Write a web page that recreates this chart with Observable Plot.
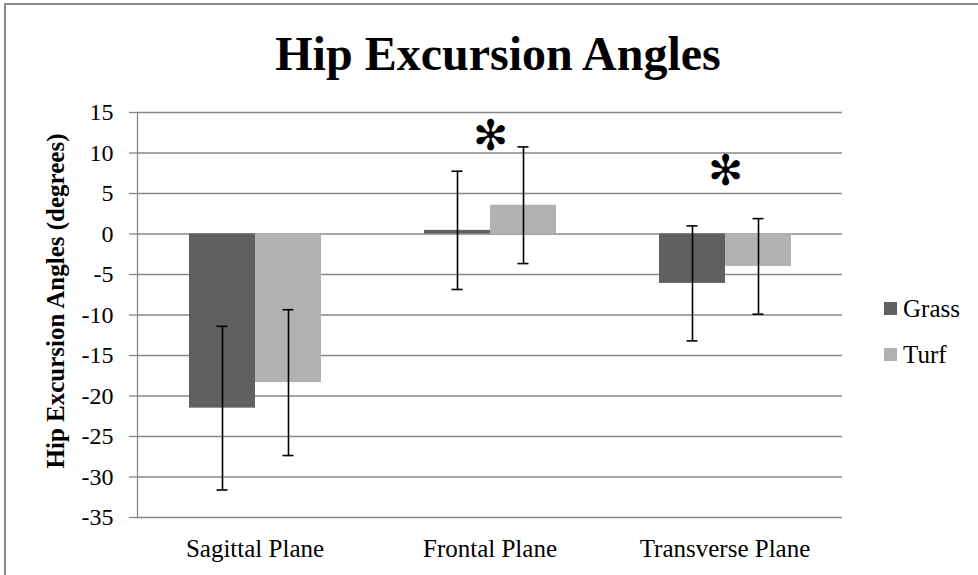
<!DOCTYPE html>
<html>
<head>
<meta charset="utf-8">
<script src="https://cdn.jsdelivr.net/npm/d3@7"></script>
<script src="https://cdn.jsdelivr.net/npm/@observablehq/plot@0.6"></script>
<style>
  html, body { margin: 0; padding: 0; background: white; }
  body { width: 978px; height: 575px; position: relative; overflow: hidden; font-family: "Liberation Serif", "Times New Roman", serif; }
  #border { position: absolute; left: 4px; top: 3px; width: 1000px; height: 600px; border: 2px solid #8a8a8a; box-sizing: border-box; }
  #title { position: absolute; left: 0; top: 30px; width: 996px; text-align: center; font-family: "Liberation Serif", serif; font-size: 48px; line-height: 48px; font-weight: bold; color: black; }
  #chart { position: absolute; left: 0; top: 0; }
  #chart svg text { font-family: "Liberation Serif", serif; }
  .leg-item { position: absolute; font-family: "Liberation Serif", serif; font-size: 25px; line-height: 25px; color: black; }
  .leg-sw { position: absolute; width: 13px; height: 13px; }
  #chart svg text.star { font-family: "DejaVu Sans", sans-serif; }
</style>
</head>
<body>
<div id="border"></div>
<div id="title">Hip Excursion Angles</div>
<div id="chart"></div>
<div id="legend"></div>
<script>
// ---- data ----
const planes = ["Sagittal Plane", "Frontal Plane", "Transverse Plane"];
const surfaces = ["Grass", "Turf"];
const colors = ["#606060", "#b2b2b2"];
const grassMean = [-21.5, 0.45, -6.1];
const turfMean = [-18.35, 3.55, -4.0];
const grassErr = [10.1, 7.3, 7.1];
const turfErr = [9.0, 7.2, 5.9];
const starPlanes = ["Frontal Plane", "Transverse Plane"];
const starValues = [12.0, 7.7];
const yTicks = [-35, -30, -25, -20, -15, -10, -5, 0, 5, 10, 15];
const yLabel = "Hip Excursion Angles (degrees)";

const rows = [];
planes.forEach((p, i) => {
  rows.push({plane: p, surface: "Grass", mean: grassMean[i], lo: grassMean[i] - grassErr[i], hi: grassMean[i] + grassErr[i]});
  rows.push({plane: p, surface: "Turf", mean: turfMean[i], lo: turfMean[i] - turfErr[i], hi: turfMean[i] + turfErr[i]});
});
const stars = starPlanes.map((p, i) => ({plane: p, y: starValues[i]}));

const gridColor = "#878787";
const serif = "Liberation Serif";

const chart = Plot.plot({
  width: 978,
  height: 575,
  marginTop: 112,
  marginBottom: 58,
  marginLeft: 136,
  marginRight: 136,
  style: {fontFamily: "'Liberation Serif', serif", fontSize: "24px", background: "transparent", color: "black", overflow: "visible"},
  fx: {domain: planes, padding: 0, axis: null},
  x: {domain: surfaces, paddingInner: 0, paddingOuter: 0.754, axis: null},
  y: {domain: [-35, 15], axis: null},
  color: {domain: surfaces, range: colors},
  marks: [
    Plot.gridY(yTicks, {stroke: gridColor, strokeOpacity: 1, strokeWidth: 1.3}),
    Plot.frame({anchor: "left", facetAnchor: "left", stroke: gridColor, strokeWidth: 1.3}),
    Plot.axisY({ticks: yTicks, tickSize: 8, tickPadding: 16, stroke: gridColor, strokeWidth: 1.3, fill: "black", fontSize: 24, fontFamily: serif, tickFormat: d => String(d), label: null}),
    Plot.axisFx({anchor: "bottom", tickSize: 0, tickPadding: 22, fontSize: 25, fontFamily: serif, fill: "black", label: null}),
    Plot.barY(rows, {fx: "plane", x: "surface", y: "mean", fill: "surface"}),
    Plot.ruleX(rows, {fx: "plane", x: "surface", y1: "lo", y2: "hi", stroke: "black", strokeWidth: 1.6}),
    Plot.tickY(rows, {fx: "plane", x: "surface", y: "lo", insetLeft: 27.5, insetRight: 27.5, stroke: "black", strokeWidth: 1.6}),
    Plot.tickY(rows, {fx: "plane", x: "surface", y: "hi", insetLeft: 27.5, insetRight: 27.5, stroke: "black", strokeWidth: 1.6}),
    Plot.text(stars, {fx: "plane", y: "y", text: () => "\u273B", fontSize: 42, fontFamily: "DejaVu Sans", fill: "black", className: "star"}),
    Plot.text([yLabel], {frameAnchor: "left", facetAnchor: "left", rotate: -90, dx: -82, dy: -14, fontWeight: "bold", fontSize: 25, fontFamily: serif, fill: "black", textAnchor: "middle"})
  ]
});
document.getElementById("chart").appendChild(chart);

// legend
const legend = document.getElementById("legend");
const legTops = [302, 348];
surfaces.forEach((s, i) => {
  const sw = document.createElement("div");
  sw.className = "leg-sw";
  sw.style.left = "884px";
  sw.style.top = legTops[i] + "px";
  sw.style.background = chart.scale("color").apply(s);
  legend.appendChild(sw);
  const t = document.createElement("div");
  t.className = "leg-item";
  t.style.left = "903px";
  t.style.top = (legTops[i] - 6) + "px";
  t.textContent = s;
  legend.appendChild(t);
});
</script>
</body>
</html>
